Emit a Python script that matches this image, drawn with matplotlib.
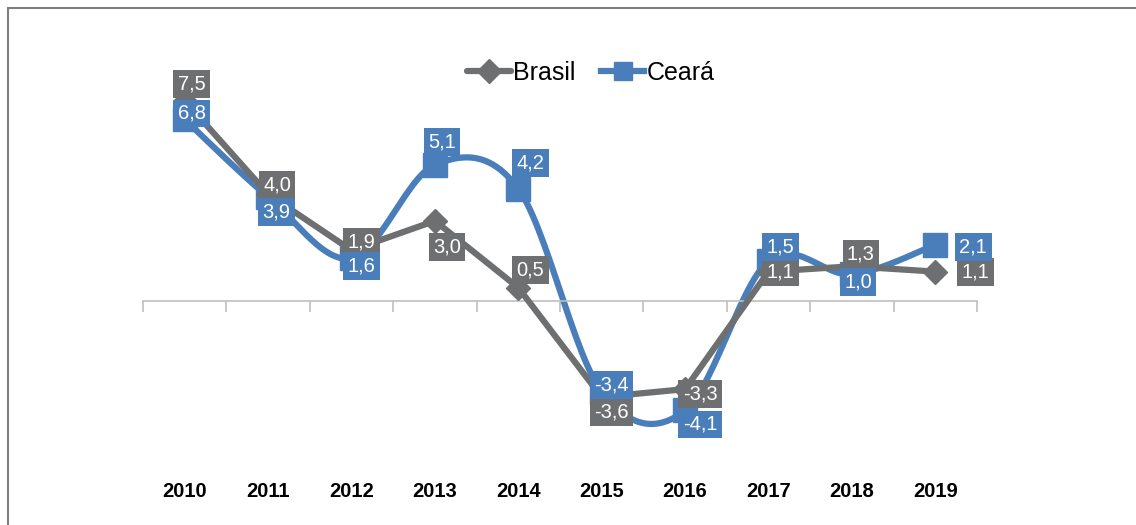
import matplotlib
matplotlib.use("Agg")
import matplotlib.pyplot as plt
import numpy as np
from matplotlib.patches import Rectangle

plt.rcParams['font.family'] = ['Liberation Sans', 'DejaVu Sans']

# Data
years = ['2010', '2011', '2012', '2013', '2014', '2015', '2016', '2017', '2018', '2019']
brasil = [7.5, 4.0, 1.9, 3.0, 0.5, -3.6, -3.3, 1.1, 1.3, 1.1]
ceara = [6.8, 3.9, 1.6, 5.1, 4.2, -3.4, -4.1, 1.5, 1.0, 2.1]

# label offsets in pixels (dx, dy) relative to each point
brasil_off = [(7, 17), (9, 9), (10, 8), (12, -26), (12, 18), (10, -15), (15, -5), (12, 0), (9, 12), (40, 0)]
ceara_off = [(7, 6), (8, -15), (10, -8), (7, 23), (12, 26), (10, 7), (15, -14), (12, 14), (6, -8), (38, -2)]

GRAY = '#6e6f71'
BLUE = '#4a7ebb'


def smooth(x, y, n=30):
    """Excel-like smoothed line (Catmull-Rom as cubic Bezier)."""
    x = np.asarray(x, float)
    y = np.asarray(y, float)
    px = np.concatenate([[x[0]], x, [x[-1]]])
    py = np.concatenate([[y[0]], y, [y[-1]]])
    xs, ys = [], []
    t = np.linspace(0, 1, n)
    for i in range(1, len(px) - 2):
        p0 = np.array([px[i], py[i]])
        p3 = np.array([px[i + 1], py[i + 1]])
        c1 = p0 + (np.array([px[i + 1], py[i + 1]]) - np.array([px[i - 1], py[i - 1]])) / 6
        c2 = p3 - (np.array([px[i + 2], py[i + 2]]) - np.array([px[i], py[i]])) / 6
        b = ((1 - t) ** 3)[:, None] * p0 + (3 * (1 - t) ** 2 * t)[:, None] * c1 \
            + (3 * (1 - t) * t ** 2)[:, None] * c2 + (t ** 3)[:, None] * p3
        xs.extend(b[:, 0])
        ys.extend(b[:, 1])
    return np.array(xs), np.array(ys)


fig = plt.figure(figsize=(11.36, 5.25), dpi=100)
ax = fig.add_axes([143 / 1136, 1 - 470 / 525, (977 - 143) / 1136, 430 / 525])
ax.set_xlim(-0.5, len(years) - 0.5)
ax.set_ylim(-(470 - 301) / 26.7, (301 - 40) / 26.7)

x = np.arange(len(years))

ax.plot(x, brasil, color=GRAY, lw=4.5, marker='D', ms=12, zorder=3,
        solid_capstyle='round', solid_joinstyle='round', label='Brasil')
sx, sy = smooth(x, ceara)
ax.plot(sx, sy, color=BLUE, lw=4.5, zorder=2, solid_capstyle='round')
ax.plot(x, ceara, color=BLUE, lw=0, marker='s', ms=17, zorder=2)
# legend proxy
ax.plot([], [], color=BLUE, lw=4.5, marker='s', ms=13, label='Ceará')

for xi, v, (dx, dy) in zip(x, brasil, brasil_off):
    ax.annotate(f"{v:.1f}".replace('.', ','), (xi, v), xytext=(dx, dy),
                textcoords='offset pixels', ha='center', va='center',
                color='white', fontsize=14.5, zorder=5,
                bbox=dict(boxstyle='square,pad=0.22', fc=GRAY, ec='none'))
for xi, v, (dx, dy) in zip(x, ceara, ceara_off):
    ax.annotate(f"{v:.1f}".replace('.', ','), (xi, v), xytext=(dx, dy),
                textcoords='offset pixels', ha='center', va='center',
                color='white', fontsize=14.5, zorder=5,
                bbox=dict(boxstyle='square,pad=0.22', fc=BLUE, ec='none'))

# axis at zero with category tick marks
for s in ['left', 'right', 'top']:
    ax.spines[s].set_visible(False)
ax.spines['bottom'].set_position(('data', 0))
ax.spines['bottom'].set_color('#bfbfbf')
ax.spines['bottom'].set_linewidth(1.2)
ax.set_yticks([])
ax.set_xticks(np.arange(-0.5, len(years)), labels=[''] * (len(years) + 1))
ax.tick_params(axis='x', length=8, width=1.2, color='#bfbfbf', direction='out')

for xi, yr in zip(x, years):
    ax.text(xi, -0.05, yr, transform=ax.get_xaxis_transform(), ha='center',
            va='center', fontsize=14.5, fontweight='bold', color='black')

fig.legend(loc='center', bbox_to_anchor=(591 / 1136, 1 - 73 / 525), ncol=2,
           frameon=False, fontsize=18, handlelength=1.75, handletextpad=0.1,
           columnspacing=1.0)

# outer frame
fig.patches.append(Rectangle((8 / 1136, -0.1), 1.2, 1 - 8 / 525 + 0.1,
                             transform=fig.transFigure, fill=False,
                             ec='#7f7f7f', lw=1.5))

fig.savefig('out.png', dpi=100)
